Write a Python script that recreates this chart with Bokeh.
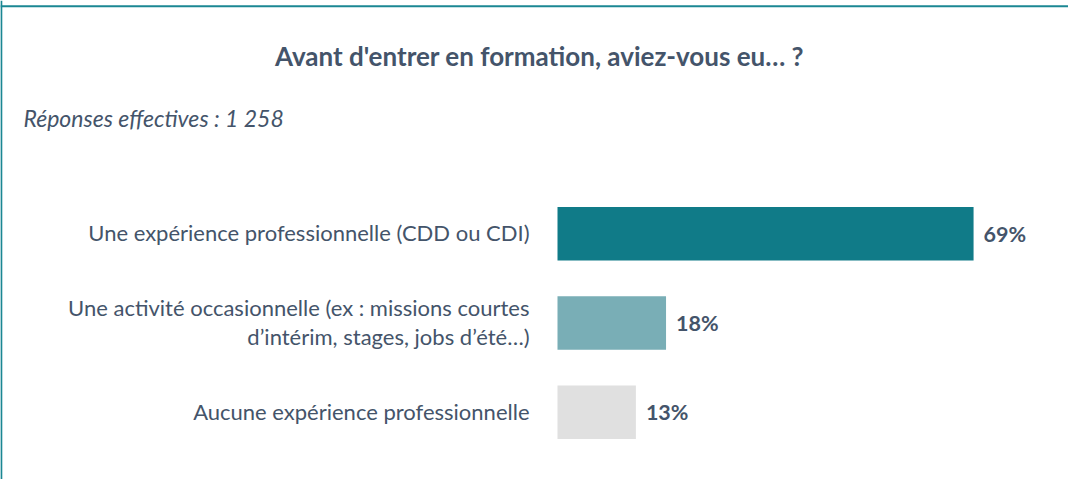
from bokeh.plotting import figure
from bokeh.models import ColumnDataSource, Range1d, Label, Span
from bokeh.core.properties import value
from bokeh.embed import file_html
from bokeh.resources import INLINE

# ---- data ----
categories = [
    "Une expérience professionnelle (CDD ou CDI)",
    "Une activité occasionnelle (ex : missions courtes\nd\u2019intérim, stages, jobs d\u2019été\u2026)",
    "Aucune expérience professionnelle",
]
values = [69, 18, 13]
value_labels = ["69%", "18%", "13%"]
bar_colors = ["#107B88", "#79AEB6", "#E0E0E0"]

title_text = "Avant d'entrer en formation, aviez-vous eu\u2026 ?"
subtitle_text = "Réponses effectives : 1 258"

# ---- layout ----
W, H = 1068, 479
PX_PER_PCT = 6.03
ZERO_PX = 557.0           # canvas x of 0 %
ROW_PX = 89.2             # vertical distance between rows
FIRST_ROW_PX = 233.3      # canvas y of first row centre
TEXT = "#44546A"
FONT = "Lato"

x0 = -ZERO_PX / PX_PER_PCT
x1 = x0 + W / PX_PER_PCT
y_top = -FIRST_ROW_PX / ROW_PX
y_bot = y_top + H / ROW_PX

def px2x(px):
    return x0 + px / PX_PER_PCT

def px2y(py):
    return y_top + py / ROW_PX

p = figure(width=W, height=H, output_backend="svg", toolbar_location=None,
           x_range=Range1d(x0, x1), y_range=Range1d(y_bot, y_top),
           x_axis_location=None, y_axis_location=None,
           min_border=0, min_border_left=0, min_border_right=0,
           min_border_top=0, min_border_bottom=0)
p.grid.visible = False
p.outline_line_color = None
p.background_fill_color = "white"
p.border_fill_color = "white"

idx = list(range(len(categories)))
src = ColumnDataSource(dict(y=idx, v=values, lab=categories, vl=value_labels,
                            c=bar_colors, zero=[0] * len(values)))

p.hbar(y="y", left="zero", right="v", height=0.6, fill_color="c",
       line_color=None, source=src)

p.text(x="zero", y="y", text="lab", source=src, x_offset=-28, y_offset=-1,
       text_align="right", text_baseline="middle",
       text_font=value(FONT), text_font_size="22px", text_color=TEXT,
       text_line_height=1.1)

p.text(x="v", y="y", text="vl", source=src, x_offset=10,
       text_align="left", text_baseline="middle",
       text_font=value(FONT), text_font_size="21.5px", text_font_style="bold",
       text_color=TEXT)

p.add_layout(Label(x=px2x(539), y=px2y(55.5), text=title_text,
                   text_align="center", text_baseline="middle",
                   text_font=FONT, text_font_size="26px",
                   text_font_style="bold", text_color=TEXT))
p.add_layout(Label(x=px2x(23), y=px2y(117), text=subtitle_text,
                   text_align="left", text_baseline="middle",
                   text_font=FONT, text_font_size="23px",
                   text_font_style="italic", text_color=TEXT))

border = "#1B8793"
p.add_layout(Span(location=px2x(0.8), dimension="height",
                  line_color=border, line_width=2))
p.add_layout(Span(location=px2y(5.7), dimension="width",
                  line_color=border, line_width=2))

open("out.html", "w").write(file_html(p, INLINE))
